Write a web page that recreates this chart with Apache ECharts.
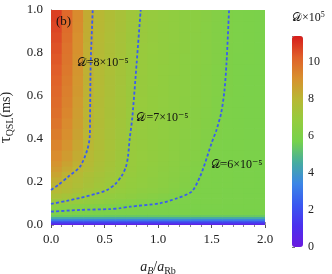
<!DOCTYPE html>
<html><head><meta charset="utf-8">
<script src="https://cdn.jsdelivr.net/npm/echarts@6/dist/echarts.min.js"></script>
<style>html,body{margin:0;padding:0;background:#fff}#c{width:332px;height:274px}</style>
</head><body><div id="c"></div>
<script>
// x cell edges (a_B / a_Rb)
const xEdges = [0,0.1,0.2,0.3,0.4,0.5,0.6,0.7,0.8,0.9,1.0,1.1,1.2,1.3,1.4,1.5,1.6,1.7,1.8,1.9,2.0];
// tau cell edges (ms)
const tauEdges = [0,0.01,0.02,0.03,0.04,0.05,0.075,0.1,0.125,0.15,0.175,0.2,0.225,0.25,0.275,0.3,
  0.35,0.4,0.45,0.5,0.55,0.6,0.65,0.7,0.75,0.8,0.85,0.9,0.95,1.0];
// D x 10^5, one row per tau cell (bottom to top), one value per x cell
const dGrid = [
 [0.45,0.45,0.45,0.45,0.45,0.45,0.45,0.45,0.45,0.45,0.45,0.45,0.45,0.45,0.45,0.45,0.45,0.45,0.45,0.45],
 [1.7,1.7,1.7,1.7,1.7,1.7,1.7,1.7,1.7,1.7,1.7,1.7,1.7,1.7,1.7,1.7,1.7,1.7,1.7,1.7],
 [3.1,3.1,3.1,3.1,3.1,3.1,3.1,3.1,3.1,3.1,3.1,3.1,3.1,3.1,3.1,3.1,3.1,3.1,3.1,3.1],
 [4.4,4.4,4.4,4.4,4.4,4.4,4.4,4.4,4.4,4.4,4.4,4.4,4.4,4.4,4.4,4.4,4.4,4.4,4.4,4.4],
 [5.5,5.5,5.45,5.45,5.45,5.4,5.4,5.4,5.4,5.4,5.4,5.4,5.4,5.4,5.4,5.4,5.4,5.4,5.4,5.4],
 [6.0,5.98,5.96,5.95,5.94,5.93,5.92,5.91,5.9,5.9,5.89,5.88,5.88,5.87,5.86,5.86,5.85,5.84,5.83,5.82],
 [6.55,6.45,6.35,6.27,6.2,6.13,6.07,6.02,5.98,5.95,5.93,5.92,5.91,5.9,5.89,5.88,5.87,5.86,5.85,5.84],
 [7.12,7.0,6.9,6.78,6.67,6.56,6.45,6.35,6.25,6.15,6.05,5.98,5.95,5.93,5.92,5.91,5.9,5.88,5.87,5.86],
 [7.55,7.38,7.2,7.03,6.9,6.78,6.67,6.56,6.45,6.34,6.22,6.1,5.99,5.95,5.93,5.92,5.9,5.88,5.87,5.86],
 [7.88,7.7,7.5,7.32,7.12,6.97,6.85,6.74,6.63,6.52,6.41,6.28,6.12,5.98,5.94,5.92,5.9,5.88,5.87,5.86],
 [8.1,7.85,7.65,7.45,7.25,7.07,6.93,6.82,6.71,6.6,6.48,6.35,6.2,6.02,5.95,5.93,5.91,5.89,5.88,5.87],
 [8.3,7.95,7.72,7.52,7.33,7.15,6.98,6.85,6.74,6.63,6.51,6.38,6.23,6.05,5.96,5.93,5.91,5.89,5.88,5.87],
 [8.55,8.15,7.85,7.6,7.4,7.22,7.05,6.9,6.78,6.67,6.55,6.42,6.28,6.1,5.97,5.94,5.92,5.9,5.88,5.87],
 [8.8,8.4,8.05,7.75,7.5,7.3,7.1,6.93,6.8,6.69,6.58,6.46,6.32,6.15,5.98,5.94,5.92,5.9,5.88,5.87],
 [9.0,8.6,8.2,7.85,7.58,7.36,7.14,6.96,6.83,6.72,6.61,6.49,6.36,6.2,6.0,5.95,5.92,5.9,5.88,5.87],
 [9.2,8.8,8.35,7.92,7.63,7.4,7.17,6.98,6.86,6.75,6.64,6.52,6.4,6.26,6.07,5.96,5.93,5.91,5.89,5.88],
 [9.4,9.0,8.5,8.0,7.68,7.43,7.2,6.98,6.87,6.77,6.66,6.55,6.43,6.3,6.14,5.98,5.94,5.91,5.89,5.88],
 [9.6,9.15,8.6,8.05,7.72,7.46,7.22,6.99,6.88,6.78,6.68,6.57,6.46,6.34,6.2,6.01,5.95,5.92,5.9,5.88],
 [9.75,9.25,8.68,8.08,7.75,7.49,7.25,7.0,6.89,6.79,6.69,6.59,6.48,6.37,6.24,6.07,5.96,5.93,5.9,5.88],
 [9.9,9.35,8.75,8.1,7.78,7.52,7.28,7.03,6.9,6.8,6.7,6.6,6.5,6.39,6.27,6.1,5.97,5.93,5.9,5.88],
 [10.0,9.45,8.82,8.13,7.8,7.54,7.3,7.05,6.92,6.81,6.71,6.61,6.51,6.41,6.29,6.13,5.98,5.93,5.9,5.88],
 [10.1,9.52,8.88,8.15,7.82,7.56,7.32,7.07,6.93,6.82,6.72,6.62,6.52,6.42,6.3,6.15,5.99,5.93,5.9,5.88],
 [10.2,9.6,8.93,8.17,7.84,7.58,7.34,7.09,6.94,6.83,6.73,6.63,6.53,6.43,6.31,6.16,5.99,5.94,5.9,5.88],
 [10.3,9.68,8.98,8.19,7.86,7.6,7.36,7.11,6.96,6.84,6.74,6.64,6.54,6.44,6.32,6.17,6.0,5.94,5.9,5.88],
 [10.4,9.75,9.03,8.22,7.88,7.62,7.38,7.13,6.97,6.85,6.75,6.65,6.55,6.45,6.33,6.18,6.01,5.94,5.91,5.88],
 [10.5,9.82,9.08,8.25,7.9,7.64,7.4,7.15,6.98,6.86,6.76,6.66,6.56,6.46,6.34,6.19,6.02,5.95,5.91,5.88],
 [10.6,9.9,9.13,8.28,7.93,7.66,7.42,7.17,6.99,6.87,6.77,6.67,6.57,6.47,6.35,6.2,6.03,5.95,5.91,5.88],
 [10.7,9.97,9.18,8.31,7.96,7.68,7.44,7.19,7.01,6.88,6.78,6.68,6.58,6.48,6.36,6.21,6.04,5.96,5.91,5.88],
 [10.8,10.05,9.23,8.34,7.98,7.7,7.46,7.21,7.02,6.89,6.79,6.69,6.59,6.49,6.37,6.22,6.05,5.96,5.91,5.88]
];
// contour lines [x, tau]
const contour8 = [[0,0.163],[0.068,0.186],[0.162,0.225],[0.271,0.271],[0.339,0.349],[0.362,0.41],[0.365,0.5],[0.371,0.752],[0.39,1.0]];
const contour7 = [[0,0.098],[0.146,0.112],[0.271,0.126],[0.42,0.145],[0.52,0.162],[0.6,0.19],[0.66,0.228],[0.7,0.27],[0.72,0.32],[0.735,0.4],[0.76,0.5],[0.8,0.75],[0.838,1.0]];
const contour6 = [[0,0.062],[0.271,0.07],[0.55,0.074],[0.645,0.078],[0.738,0.085],[1.019,0.101],[1.175,0.124],[1.315,0.155],[1.393,0.225],[1.44,0.288],[1.5,0.38],[1.545,0.44],[1.59,0.52],[1.62,0.62],[1.64,0.75],[1.664,1.0]];
const contourNames = ['𝒟=8×10⁻⁵','𝒟=7×10⁻⁵','𝒟=6×10⁻⁵'];
const colorbarMax = 11.4;

const cells = [];
for (let j = 0; j < dGrid.length; j++) {
  for (let i = 0; i < dGrid[j].length; i++) {
    cells.push([xEdges[i], xEdges[i+1], tauEdges[j], tauEdges[j+1], dGrid[j][i]]);
  }
}
const serif = "'Liberation Serif','DejaVu Serif',serif";
const chart = echarts.init(document.getElementById('c'), null, {renderer:'canvas'});
const lineStyle = {color:'#3a5cf0', width:1.8, type:[3,2.2]};
function contourSeries(data, name, coord){
  return {type:'line', xAxisIndex:0, yAxisIndex:0, data:data, symbol:'none', smooth:0.25,
    lineStyle:lineStyle, silent:true, z:3, animation:false,
    markPoint:{symbol:'rect', symbolSize:1, itemStyle:{color:'rgba(0,0,0,0)'}, silent:true,
      data:[{coord:coord}],
      label:{show:true, position:'right', distance:0, formatter:name, color:'#111',
        fontFamily:serif, fontSize:12}}};
}
chart.setOption({
  animation:false,
  grid:[{left:51, top:10, width:214, height:215, outerBoundsMode:'none', containLabel:false},
        {left:292, top:36, width:11, height:211, outerBoundsMode:'none', containLabel:false}],
  xAxis:[
    {gridIndex:0, type:'value', min:0, max:2, interval:0.5, position:'bottom',
     axisLine:{show:false}, axisTick:{show:true, length:3, lineStyle:{color:'#555'}},
     minorTick:{show:true, splitNumber:5, length:2, lineStyle:{color:'#888'}},
     splitLine:{show:false},
     axisLabel:{margin:8, fontFamily:serif, fontSize:13, color:'#222', formatter:v=>v.toFixed(1)},
     name:'{i|a}{si|B}{n|/}{i|a}{s|Rb}', nameLocation:'middle', nameGap:33,
     nameTextStyle:{rich:{
       i:{fontFamily:serif, fontStyle:'italic', fontSize:14, color:'#222', lineHeight:18},
       si:{fontFamily:serif, fontStyle:'italic', fontSize:10, color:'#222', lineHeight:18, verticalAlign:'bottom'},
       n:{fontFamily:serif, fontSize:14, color:'#222', lineHeight:18},
       s:{fontFamily:serif, fontSize:10, color:'#222', lineHeight:18, verticalAlign:'bottom'}}}},
    {gridIndex:0, type:'value', min:0, max:2, interval:0.5, position:'top', offset:3,
     axisLine:{show:false}, axisLabel:{show:false}, splitLine:{show:false},
     axisTick:{show:true, length:3, lineStyle:{color:'#999'}},
     minorTick:{show:true, splitNumber:5, length:2, lineStyle:{color:'#bbb'}}},
    {gridIndex:1, type:'value', min:0, max:1, show:false}
  ],
  yAxis:[
    {gridIndex:0, type:'value', min:0, max:1, interval:0.2, position:'left', offset:3,
     axisLine:{show:true, lineStyle:{color:'#444', width:1}},
     axisTick:{show:true, inside:true, length:3, lineStyle:{color:'#444'}},
     minorTick:{show:true, splitNumber:2, length:2, lineStyle:{color:'#666'}},
     splitLine:{show:false},
     axisLabel:{margin:5, fontFamily:serif, fontSize:13, color:'#222', formatter:v=>v.toFixed(1)},
     name:'{t|τ}{s|QSL}{n|(ms)}', nameLocation:'middle', nameRotate:90, nameGap:31,
     nameTextStyle:{rich:{
       t:{fontFamily:serif, fontSize:17, color:'#222', lineHeight:20},
       s:{fontFamily:serif, fontSize:10, color:'#222', lineHeight:20, verticalAlign:'bottom'},
       n:{fontFamily:serif, fontSize:14, color:'#222', lineHeight:20}}}},
    {gridIndex:0, type:'value', min:0, max:1, interval:0.2, position:'right', offset:3,
     axisLine:{show:false}, axisLabel:{show:false}, splitLine:{show:false},
     axisTick:{show:true, length:3, lineStyle:{color:'#999'}},
     minorTick:{show:true, splitNumber:2, length:2, lineStyle:{color:'#bbb'}}},
    {gridIndex:1, type:'value', min:0, max:colorbarMax, interval:2, position:'right',
     axisLine:{show:false}, splitLine:{show:false},
     axisTick:{show:true, length:3, lineStyle:{color:'#777'}},
     minorTick:{show:true, splitNumber:2, length:2, lineStyle:{color:'#aaa'}},
     axisLabel:{margin:5, fontFamily:serif, fontSize:12, color:'#222', showMaxLabel:false,
       formatter:v=> (v > 10.5 ? '' : String(v))}}
  ],
  visualMap:{type:'continuous', min:0, max:colorbarMax, dimension:4, seriesIndex:0,
    show:true, calculable:false, orient:'vertical', left:292, top:36, itemWidth:11, itemHeight:211,
    padding:0, text:null, hoverLink:false,
    inRange:{color:['#6a1adf','#4b30ee','#3a58f0','#3c86e6','#46aca0','#76d24c','#94cc3e','#b8b834','#d8902e','#e0602a','#d61c1c']}},
  graphic:[
    {type:'text', left:56, top:15, silent:true, z:100,
     style:{text:'(b)', font:"13px 'Liberation Serif'", fill:'#111'}},
    {type:'text', left:292, top:11, silent:true, z:100,
     style:{text:'{d|𝒟}{t|×10}{s|5}', rich:{
        d:{fontFamily:serif, fontSize:12, fill:'#111', lineHeight:14},
        t:{fontFamily:serif, fontSize:12, fill:'#111', lineHeight:14},
        s:{fontFamily:serif, fontSize:8, fill:'#111', lineHeight:14, verticalAlign:'top'}}}}
  ],
  series:[
    {type:'custom', xAxisIndex:0, yAxisIndex:0, data:cells, silent:true, z:1,
     dimensions:['x0','x1','t0','t1','D'], encode:{x:[0,1], y:[2,3]},
     renderItem:function(params, api){
       const a = api.coord([api.value(0), api.value(3)]);
       const b = api.coord([api.value(1), api.value(2)]);
       const shape = echarts.graphic.clipRectByRect(
         {x:a[0], y:a[1], width:b[0]-a[0]+0.7, height:b[1]-a[1]+0.7},
         {x:params.coordSys.x, y:params.coordSys.y, width:params.coordSys.width, height:params.coordSys.height});
       return shape && {type:'rect', shape:shape, style:{fill:api.visual('color')}};
     }},
    contourSeries(contour8, contourNames[0], [0.235, 0.753]),
    contourSeries(contour7, contourNames[1], [0.794, 0.5]),
    contourSeries(contour6, contourNames[2], [1.486, 0.28])
  ]
});
</script></body></html>
